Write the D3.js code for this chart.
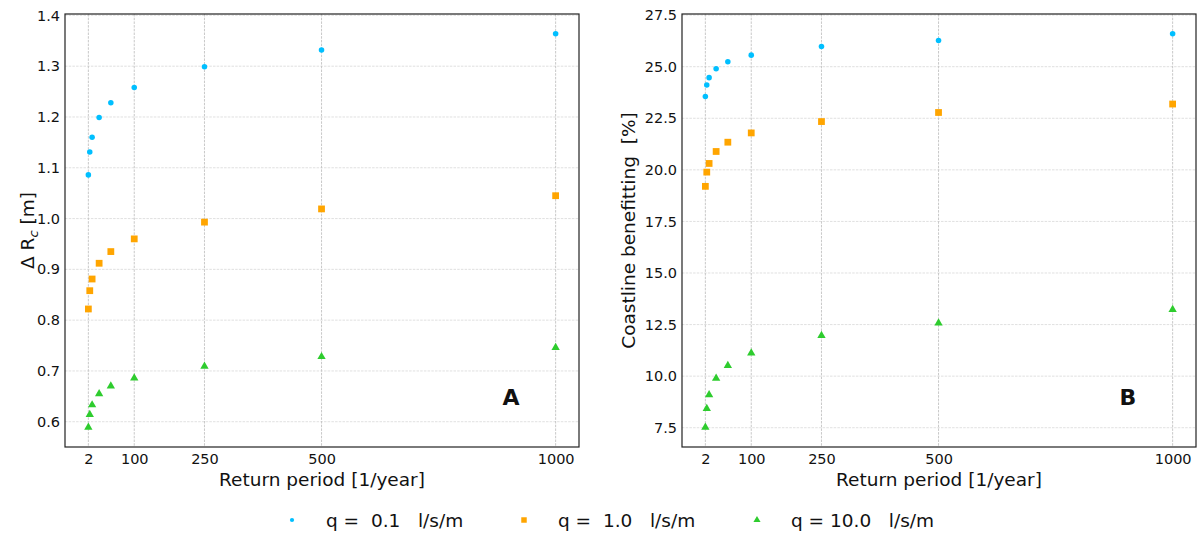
<!DOCTYPE html>
<html><head><meta charset="utf-8">
<script src="https://cdn.jsdelivr.net/npm/d3@7"></script>
<style>
body{margin:0;background:#fff;}
text{font-family:"DejaVu Sans",sans-serif;fill:#111;}
</style></head>
<body><svg id="c" width="1200" height="533"></svg>
<script>
const returnPeriods = [2, 5, 10, 25, 50, 100, 250, 500, 1000];
const xTicks = [2, 100, 250, 500, 1000];
const seriesNames = ["q =  0.1   l/s/m", "q =  1.0   l/s/m", "q = 10.0   l/s/m"];
const seriesColors = ["#00BFFF", "#FFA500", "#2ECC2E"];
const seriesSymbols = ["circle", "square", "triangle"];

// Panel A: Delta Rc [m]
const rcQ01 = [1.086, 1.131, 1.160, 1.199, 1.228, 1.258, 1.299, 1.332, 1.364];
const rcQ1  = [0.822, 0.858, 0.881, 0.912, 0.935, 0.960, 0.993, 1.019, 1.045];
const rcQ10 = [0.589, 0.614, 0.633, 0.655, 0.670, 0.686, 0.709, 0.728, 0.746];
const rcTicks = [0.6, 0.7, 0.8, 0.9, 1.0, 1.1, 1.2, 1.3, 1.4];

// Panel B: Coastline benefitting [%]
const cbQ01 = [23.56, 24.11, 24.47, 24.90, 25.24, 25.56, 25.98, 26.27, 26.60];
const cbQ1  = [19.20, 19.89, 20.31, 20.89, 21.34, 21.79, 22.34, 22.78, 23.19];
const cbQ10 = [7.52, 8.43, 9.09, 9.89, 10.51, 11.12, 11.97, 12.57, 13.23];
const cbTicks = [7.5, 10.0, 12.5, 15.0, 17.5, 20.0, 22.5, 25.0, 27.5];

const svg = d3.select("#c");

function symbolPath(kind, size){
  const t = kind === "circle" ? d3.symbolCircle : kind === "square" ? d3.symbolSquare : d3.symbolTriangle;
  return d3.symbol().type(t).size(size)();
}
const markerSize = {circle: 24, square: 46, triangle: 30};

function margin(ext){ const r = ext[1]-ext[0]; return [ext[0]-0.05*r, ext[1]+0.05*r]; }

function panel(opts){
  const {x0, x1, y0, y1, series, yTicks, fmt, ylabel, letter} = opts;
  const g = svg.append("g");
  const xs = d3.scaleLinear().domain(margin(d3.extent(returnPeriods))).range([x0, x1]);
  const all = series.flat();
  const ys = d3.scaleLinear().domain(margin(d3.extent(all))).range([y1, y0]);

  // grid
  g.append("g").selectAll("line").data(yTicks.filter(v=>ys(v)>=y0-0.5 && ys(v)<=y1)).join("line")
    .attr("x1", x0).attr("x2", x1).attr("y1", d=>ys(d)).attr("y2", d=>ys(d))
    .attr("stroke", "#dcdcdc").attr("stroke-width", 0.9).attr("stroke-dasharray", "2.5,1.2");
  g.append("g").selectAll("line").data(xTicks).join("line")
    .attr("x1", d=>xs(d)).attr("x2", d=>xs(d)).attr("y1", y0).attr("y2", y1)
    .attr("stroke", "#c2c2c2").attr("stroke-width", 0.9).attr("stroke-dasharray", "2.5,1.2");

  // axes via d3
  const xAxis = d3.axisBottom(xs).tickValues(xTicks).tickSize(0).tickPadding(7).tickFormat(d3.format("d"));
  const gx = g.append("g").attr("transform", `translate(0,${y1})`).call(xAxis);
  gx.select(".domain").remove();
  gx.selectAll("text").attr("font-size", 14.5).attr("font-family", "DejaVu Sans").attr("fill", "#111");

  const yAxis = d3.axisLeft(ys).tickValues(yTicks).tickSize(0).tickPadding(5).tickFormat(fmt);
  const gy = g.append("g").attr("transform", `translate(${x0},0)`).call(yAxis);
  gy.select(".domain").remove();
  gy.selectAll("text").attr("font-size", 14.5).attr("font-family", "DejaVu Sans").attr("fill", "#111");

  // frame
  g.append("rect").attr("x", x0).attr("y", y0).attr("width", x1-x0).attr("height", y1-y0)
    .attr("fill", "none").attr("stroke", "#222").attr("stroke-width", 1.2);

  // points
  series.forEach((vals, i) => {
    g.append("g").selectAll("path").data(vals).join("path")
      .attr("d", symbolPath(seriesSymbols[i], markerSize[seriesSymbols[i]]))
      .attr("transform", (d, j) => `translate(${xs(returnPeriods[j])},${ys(d)})`)
      .attr("fill", seriesColors[i]);
  });

  // labels
  g.append("text").attr("x", (x0+x1)/2).attr("y", 486).attr("text-anchor", "middle")
    .attr("font-size", 18.5).text("Return period [1/year]");
  const yl = g.append("text").attr("transform", `translate(${opts.ylx},${(y0+y1)/2}) rotate(-90)`)
    .attr("text-anchor", "middle").attr("font-size", 18.5);
  ylabel(yl);
  g.append("text").attr("x", opts.lx).attr("y", 405).attr("text-anchor", "middle")
    .attr("font-size", 22).attr("font-weight", "bold").text(letter);
}

panel({x0: 65, x1: 579, y0: 14, y1: 447, series: [rcQ01, rcQ1, rcQ10], yTicks: rcTicks,
  fmt: d3.format(".1f"), ylx: 34, lx: 511,
  ylabel: t => { t.append("tspan").text("Δ R");
    t.append("tspan").attr("font-style", "italic").attr("font-size", 13).attr("dy", 4).text("c");
    t.append("tspan").attr("dy", -4).text(" [m]"); },
  letter: "A"});

panel({x0: 682, x1: 1196, y0: 14, y1: 447, series: [cbQ01, cbQ1, cbQ10], yTicks: cbTicks,
  fmt: d3.format(".1f"), ylx: 635, lx: 1128,
  ylabel: t => { t.attr("style", "white-space:pre").text("Coastline benefitting  [%]"); },
  letter: "B"});

// legend
const legX = [292, 524, 757];
const legendMarker = {circle: 14, square: 30, triangle: 22};
const lg = svg.append("g");
seriesNames.forEach((name, i) => {
  lg.append("path").attr("d", symbolPath(seriesSymbols[i], legendMarker[seriesSymbols[i]]))
    .attr("transform", `translate(${legX[i]},520)`).attr("fill", seriesColors[i]);
  lg.append("text").attr("x", legX[i]+34).attr("y", 526.5).attr("font-size", 18.5)
    .attr("style", "white-space:pre").text(name);
});
</script></body></html>
